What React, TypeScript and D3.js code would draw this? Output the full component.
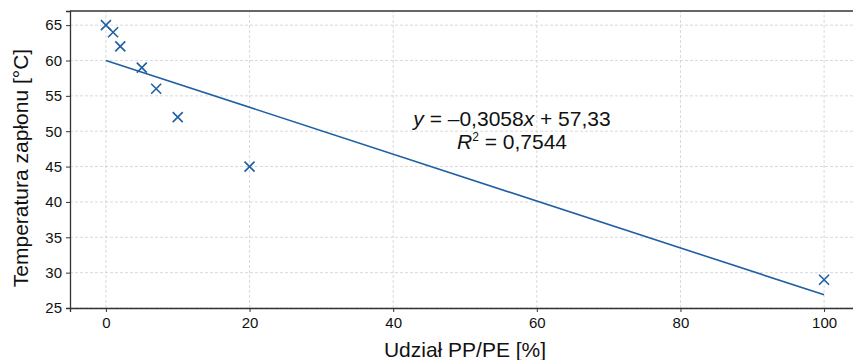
import React, { useEffect, useRef } from 'react';
import * as d3 from 'd3';

// Data
const share = [0, 1, 2, 5, 7, 10, 20, 100];
const flashPoint = [65, 64, 62, 59, 56, 52, 45, 29];
const xTicks = [0, 20, 40, 60, 80, 100];
const yTicks = [25, 30, 35, 40, 45, 50, 55, 60, 65];

const App = () => {
  const ref = useRef<SVGSVGElement | null>(null);

  useEffect(() => {
    const width = 853;
    const height = 360;
    const margin = { top: 11, right: -7, bottom: 52, left: 70 };
    const color = '#1f5fa3';
    const font = 'Liberation Sans, Arial, sans-serif';

    const svg = d3.select(ref.current);
    svg.selectAll('*').remove();

    const x = d3.scaleLinear().domain([-5, 105]).range([margin.left, width - margin.right]);
    const y = d3.scaleLinear().domain([25, 67]).range([height - margin.bottom, margin.top]);

    // grid
    const grid = svg.append('g');
    grid.selectAll('.gx').data(xTicks).enter().append('line')
      .attr('x1', (d) => x(d)).attr('x2', (d) => x(d))
      .attr('y1', y(25)).attr('y2', y(67))
      .attr('stroke', '#d0d0d0').attr('stroke-width', 0.8).attr('stroke-dasharray', '3,2');
    grid.selectAll('.gy').data(yTicks).enter().append('line')
      .attr('x1', x(-5)).attr('x2', x(105))
      .attr('y1', (d) => y(d)).attr('y2', (d) => y(d))
      .attr('stroke', '#d0d0d0').attr('stroke-width', 0.8).attr('stroke-dasharray', '3,2');

    // regression line (least squares from data)
    const mx = d3.mean(share) as number;
    const my = d3.mean(flashPoint) as number;
    let sxy = 0;
    let sxx = 0;
    share.forEach((v, i) => {
      sxy += (v - mx) * (flashPoint[i] - my);
      sxx += (v - mx) * (v - mx);
    });
    const slope = sxy / sxx;
    const intercept = my - slope * mx;
    const xExt = d3.extent(share) as [number, number];
    const line = d3.line<number>().x((d) => x(d)).y((d) => y(slope * d + intercept));
    svg.append('path').datum(xExt).attr('d', line)
      .attr('fill', 'none').attr('stroke', color).attr('stroke-width', 1.6);

    // markers
    const s = 5;
    const pts = svg.append('g').selectAll('g').data(share.map((v, i) => [v, flashPoint[i]]))
      .enter().append('g')
      .attr('transform', (d) => `translate(${x(d[0])},${y(d[1])})`);
    pts.append('path').attr('d', `M${-s},${-s}L${s},${s}M${-s},${s}L${s},${-s}`)
      .attr('stroke', color).attr('stroke-width', 1.6);

    // axes
    const xAxis = svg.append('g').attr('transform', `translate(0,${height - margin.bottom})`)
      .call(d3.axisBottom(x).tickValues(xTicks).tickSize(4).tickPadding(5));
    const yAxis = svg.append('g').attr('transform', `translate(${margin.left},0)`)
      .call(d3.axisLeft(y).tickValues(yTicks).tickSize(4).tickPadding(4));
    [xAxis, yAxis].forEach((a) => {
      a.select('.domain').attr('stroke', '#333').attr('stroke-width', 1.3);
      a.selectAll('.tick line').attr('stroke', '#333');
      a.selectAll('.tick text').attr('font-size', 15).attr('font-family', font).attr('fill', '#111');
    });
    // top frame
    svg.append('line').attr('x1', margin.left).attr('x2', width)
      .attr('y1', margin.top).attr('y2', margin.top)
      .attr('stroke', '#333').attr('stroke-width', 1.3);

    // axis titles
    svg.append('text').attr('x', x(50)).attr('y', 357).attr('text-anchor', 'middle')
      .attr('font-size', 21).attr('font-family', font).attr('fill', '#111')
      .text('Udział PP/PE [%]');
    svg.append('text').attr('transform', 'translate(28,168) rotate(-90)')
      .attr('text-anchor', 'middle')
      .attr('font-size', 21).attr('font-family', font).attr('fill', '#111')
      .text('Temperatura zapłonu [°C]');

    // equation annotation
    const eq = svg.append('text').attr('x', 512).attr('y', 126).attr('text-anchor', 'middle')
      .attr('font-size', 21).attr('font-family', font).attr('fill', '#111');
    eq.append('tspan').attr('font-style', 'italic').text('y');
    eq.append('tspan').text(' = –0,3058');
    eq.append('tspan').attr('font-style', 'italic').text('x');
    eq.append('tspan').text(' + 57,33');
    const r2 = svg.append('text').attr('x', 512).attr('y', 149).attr('text-anchor', 'middle')
      .attr('font-size', 21).attr('font-family', font).attr('fill', '#111');
    r2.append('tspan').attr('font-style', 'italic').text('R');
    r2.append('tspan').attr('font-size', 12).attr('dy', -8).text('2');
    r2.append('tspan').attr('dy', 8).text(' = 0,7544');
  }, []);

  return (
    <svg ref={ref} width={853} height={360}
      style={{ display: 'block', position: 'absolute', left: 0, top: 0, overflow: 'hidden', background: '#fff' }} />
  );
};

export default App;
